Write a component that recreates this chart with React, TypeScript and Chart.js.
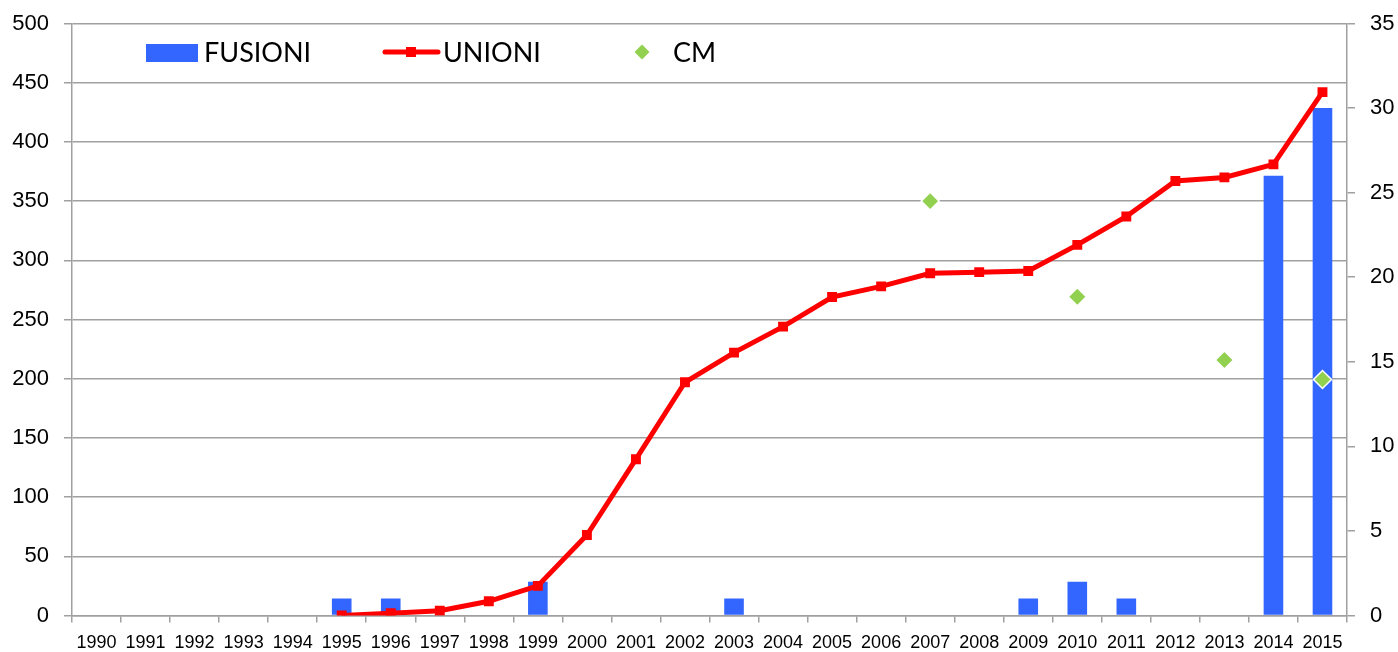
import React, { useEffect, useRef } from "react";
import { Chart, registerables } from "chart.js";

Chart.register(...registerables);

const years = [
  "1990", "1991", "1992", "1993", "1994", "1995", "1996", "1997", "1998", "1999",
  "2000", "2001", "2002", "2003", "2004", "2005", "2006", "2007", "2008", "2009",
  "2010", "2011", "2012", "2013", "2014", "2015",
];

// FUSIONI (right axis)
const fusioni = [0, 0, 0, 0, 0, 1, 1, 0, 0, 2, 0, 0, 0, 1, 0, 0, 0, 0, 0, 1, 2, 1, 0, 0, 26, 30];

// UNIONI (left axis)
const unioni = [
  null, null, null, null, null, 0, 2, 4, 12, 25,
  68, 132, 197, 222, 244, 269, 278, 289, 290, 291,
  313, 337, 367, 370, 381, 442,
];

// CM (right axis)
const cm = [
  null, null, null, null, null, null, null, null, null, null,
  null, null, null, null, null, null, null, 24.5, null, null,
  18.85, null, null, 15.1, null, 13.95,
];

const leftTicks = { min: 0, max: 500, step: 50 };
const rightTicks = { min: 0, max: 35, step: 5 };

const legendLabels = ["FUSIONI", "UNIONI", "CM"];

const BLUE = "#3366FF";
const RED = "#FF0000";
const GREEN = "#92D050";
const GRID = "#a0a0a0";
const SANS = "'Liberation Sans', Arial, sans-serif";
const LEGEND_FONT = "27px Lato, 'Open Sans', sans-serif";

const legendPlugin = {
  id: "customLegend",
  afterDraw(chart: any) {
    const ctx = chart.ctx;
    ctx.save();
    ctx.font = LEGEND_FONT;
    ctx.fillStyle = "#000";
    ctx.textBaseline = "middle";
    ctx.textAlign = "left";
    const cy = 52;
    // FUSIONI
    ctx.fillStyle = BLUE;
    ctx.fillRect(146, 44, 52, 18);
    ctx.fillStyle = "#000";
    ctx.fillText(legendLabels[0], 204, cy + 1);
    // UNIONI
    ctx.strokeStyle = RED;
    ctx.lineWidth = 5;
    ctx.lineCap = "round";
    ctx.beginPath();
    ctx.moveTo(385, cy);
    ctx.lineTo(438, cy);
    ctx.stroke();
    ctx.fillStyle = RED;
    ctx.fillRect(406, cy - 5, 10, 10);
    ctx.fillStyle = "#000";
    ctx.fillText(legendLabels[1], 443, cy + 1);
    // CM
    ctx.fillStyle = GREEN;
    ctx.beginPath();
    ctx.moveTo(642, cy - 7.5);
    ctx.lineTo(649.5, cy);
    ctx.lineTo(642, cy + 7.5);
    ctx.lineTo(634.5, cy);
    ctx.closePath();
    ctx.fill();
    ctx.fillStyle = "#000";
    ctx.fillText(legendLabels[2], 673, cy + 1);
    ctx.restore();
  },
};

export default function App() {
  const canvasRef = useRef<HTMLCanvasElement | null>(null);

  useEffect(() => {
    document.body.style.margin = "0";
    const canvas = canvasRef.current;
    if (!canvas) return;
    const chart = new Chart(canvas, {
      type: "bar",
      data: {
        labels: years,
        datasets: [
          {
            type: "line",
            label: "CM",
            data: cm,
            yAxisID: "y1",
            showLine: false,
            pointStyle: "rectRot",
            pointRadius: 9,
            pointHoverRadius: 9,
            pointBackgroundColor: GREEN,
            pointBorderColor: "#ffffff",
            pointBorderWidth: 1.5,
            backgroundColor: GREEN,
            borderColor: GREEN,
            order: 0,
          } as any,
          {
            type: "line",
            label: "UNIONI",
            data: unioni,
            yAxisID: "y",
            borderColor: RED,
            backgroundColor: RED,
            borderWidth: 5,
            tension: 0,
            pointStyle: "rect",
            pointRadius: 7,
            pointHoverRadius: 7,
            pointBackgroundColor: RED,
            pointBorderWidth: 0,
            order: 1,
          } as any,
          {
            type: "bar",
            label: "FUSIONI",
            data: fusioni,
            yAxisID: "y1",
            backgroundColor: BLUE,
            borderWidth: 0,
            barPercentage: 0.4,
            categoryPercentage: 1,
            order: 2,
          } as any,
        ],
      },
      options: {
        responsive: false,
        animation: false,
        maintainAspectRatio: false,
        layout: { padding: { top: 23.5, left: 0, right: 0, bottom: 0 } },
        plugins: {
          legend: { display: false },
          tooltip: { enabled: false },
        },
        scales: {
          x: {
            type: "category",
            offset: true,
            grid: {
              offset: true,
              drawOnChartArea: false,
              drawTicks: true,
              tickLength: 7,
              color: GRID,
              lineWidth: 1.5,
            },
            border: { color: GRID, width: 1.5 },
            ticks: {
              autoSkip: false,
              maxRotation: 0,
              minRotation: 0,
              color: "#000",
              padding: 10,
              font: { family: SANS, size: 18 },
            },
            afterFit(scale: any) {
              scale.height = 36.5;
            },
          },
          y: {
            position: "left",
            min: leftTicks.min,
            max: leftTicks.max,
            ticks: {
              stepSize: leftTicks.step,
              color: "#000",
              padding: 15,
              font: { family: SANS, size: 22, lineHeight: 0.6 },
            },
            grid: {
              color: GRID,
              lineWidth: 1.5,
              tickLength: 8,
            },
            border: { color: GRID, width: 1.5 },
            afterFit(scale: any) {
              scale.width = 72;
              scale.paddingTop = 0;
              scale.paddingBottom = 0;
            },
          },
          y1: {
            position: "right",
            min: rightTicks.min,
            max: rightTicks.max,
            ticks: {
              stepSize: rightTicks.step,
              color: "#000",
              padding: 15,
              font: { family: SANS, size: 22, lineHeight: 0.6 },
            },
            grid: {
              drawOnChartArea: false,
              color: GRID,
              lineWidth: 1.5,
              tickLength: 8,
            },
            border: { color: GRID, width: 1.5 },
            afterFit(scale: any) {
              scale.width = 51;
              scale.paddingTop = 0;
              scale.paddingBottom = 0;
            },
          },
        },
      } as any,
      plugins: [legendPlugin],
    });
    return () => {
      chart.destroy();
    };
  }, []);

  return (
    <div style={{ width: 1398, height: 652, background: "#ffffff" }}>
      <canvas ref={canvasRef} width={1398} height={652} />
    </div>
  );
}
